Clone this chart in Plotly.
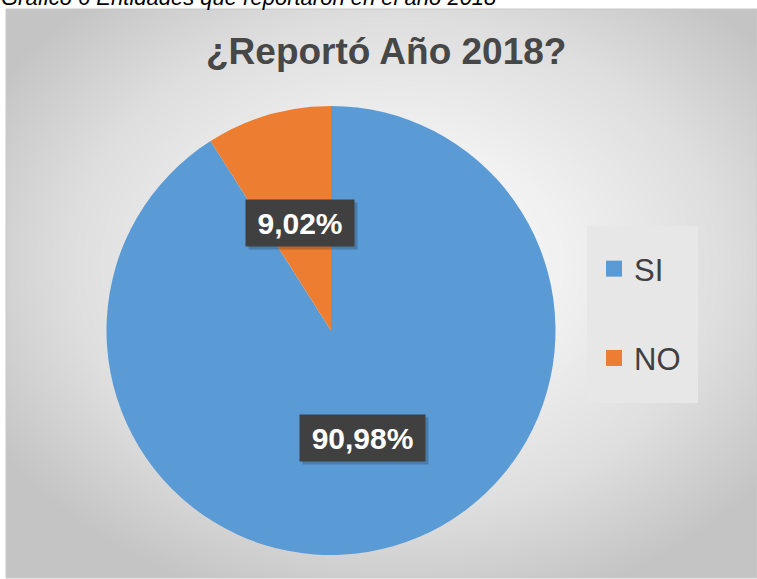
import numpy as np
import plotly.graph_objects as go

# ---- data ----
categories = ["SI", "NO"]
values = [90.98, 9.02]
colors = ["#5B9BD5", "#ED7D31"]
title_text = "¿Reportó Año 2018?"
caption_text = "Gráfico 6 Entidades que reportaron en el año 2018"

W, H = 757, 579
ML, MR, MT, MB = 6, 0, 9, 1
PW, PH = W - ML - MR, H - MT - MB

def px_to_paper(x, y):
    return (x - ML) / PW, (H - MB - y) / PH

# pie geometry (pixels)
CX, CY, R = 331, 330.5, 224.5
dx0, dy1 = px_to_paper(CX - R, CY - R)
dx1, dy0 = px_to_paper(CX + R, CY + R)

fig = go.Figure()

# radial background gradient (styling only)
gx = np.linspace(0, 1, 80)
gy = np.linspace(0, 1, 80)
GX, GY = np.meshgrid(gx, gy)
dist = np.sqrt(((GX - 0.52) / 0.62) ** 2 + ((GY - 0.55) / 0.62) ** 2)
fig.add_trace(go.Heatmap(
    x=gx, y=gy, z=dist, zsmooth="best", showscale=False, hoverinfo="skip",
    colorscale=[[0, "#f8f8f8"], [0.35, "#f1f1f1"], [0.7, "#dedede"], [1, "#c4c4c4"]],
    zmin=0, zmax=1.0,
))

fig.add_trace(go.Pie(
    labels=categories, values=values, sort=False, direction="clockwise",
    rotation=0, marker=dict(colors=colors, line=dict(width=0)),
    textinfo="none", showlegend=False, hoverinfo="label+percent",
    domain=dict(x=[dx0, dx1], y=[dy0, dy1]),
))

# legend entries
for cat, col in zip(categories, colors):
    fig.add_trace(go.Scatter(
        x=[None], y=[None], mode="markers", name=cat, legendgroup=cat,
        marker=dict(symbol="square", size=16, color=col),
    ))

# labels with dark boxes
total = sum(values)
cum = 0
for v in values:
    mid = (cum + v / 2) / total * 2 * np.pi
    cum += v
    lx = CX + 0.5 * R * np.sin(mid)
    ly = CY - 0.5 * R * np.cos(mid)
    px, py = px_to_paper(lx, ly)
    txt = f"{v:.2f}%".replace(".", ",")
    bw = 17 * len(txt) + 11
    for shadow in (True, False):
        fig.add_annotation(
            x=px, y=py, xref="paper", yref="paper",
            text="\u00a0" if shadow else txt, showarrow=False,
            xanchor="center", yanchor="middle", width=bw, height=34,
            font=dict(family="Liberation Sans, Arial", size=30, color="white", weight="bold"),
            bgcolor="rgba(0,0,0,0.2)" if shadow else "#404040",
            borderpad=6, xshift=3 if shadow else 0, yshift=-3 if shadow else 0,
        )

# title
tx, ty = px_to_paper(386, 51)
fig.add_annotation(
    x=tx, y=ty, xref="paper", yref="paper", text=title_text, showarrow=False,
    font=dict(family="Liberation Sans, Arial", size=37, color="#474747", weight="bold"),
    xanchor="center", yanchor="middle",
)

# caption above chart
cx_, cy_ = px_to_paper(0, 11)
fig.add_annotation(
    x=cx_, y=cy_, xref="paper", yref="paper", text=caption_text, showarrow=False,
    font=dict(family="Liberation Sans, Arial", size=22, color="black", style="italic"),
    xanchor="left", yanchor="bottom", borderpad=0,
)

# legend box background
bx0, by0 = px_to_paper(587, 403)
bx1, by1 = px_to_paper(698, 226)
fig.add_shape(type="rect", xref="paper", yref="paper", x0=bx0, y0=by0, x1=bx1, y1=by1,
              line=dict(width=0), fillcolor="#e7e7e7", layer="above")

# chart border
fig.add_shape(type="rect", xref="paper", yref="paper", x0=0, y0=0, x1=1, y1=1,
              line=dict(color="#c8c8c8", width=1))

lx0, ly0 = px_to_paper(594, 242)
fig.update_layout(
    width=W, height=H, margin=dict(l=ML, r=MR, t=MT, b=MB),
    paper_bgcolor="white", plot_bgcolor="white",
    xaxis=dict(visible=False, range=[0, 1], fixedrange=True),
    yaxis=dict(visible=False, range=[0, 1], fixedrange=True),
    showlegend=True,
    legend=dict(
        x=lx0, y=ly0, xanchor="left", yanchor="top",
        bgcolor="rgba(0,0,0,0)", borderwidth=0, tracegroupgap=46,
        font=dict(family="Liberation Sans, Arial", size=31, color="#404040"),
        itemwidth=30,
    ),
)

fig.write_html("out.html", config={"displayModeBar": False},
               post_script="document.body.style.margin='0';")
